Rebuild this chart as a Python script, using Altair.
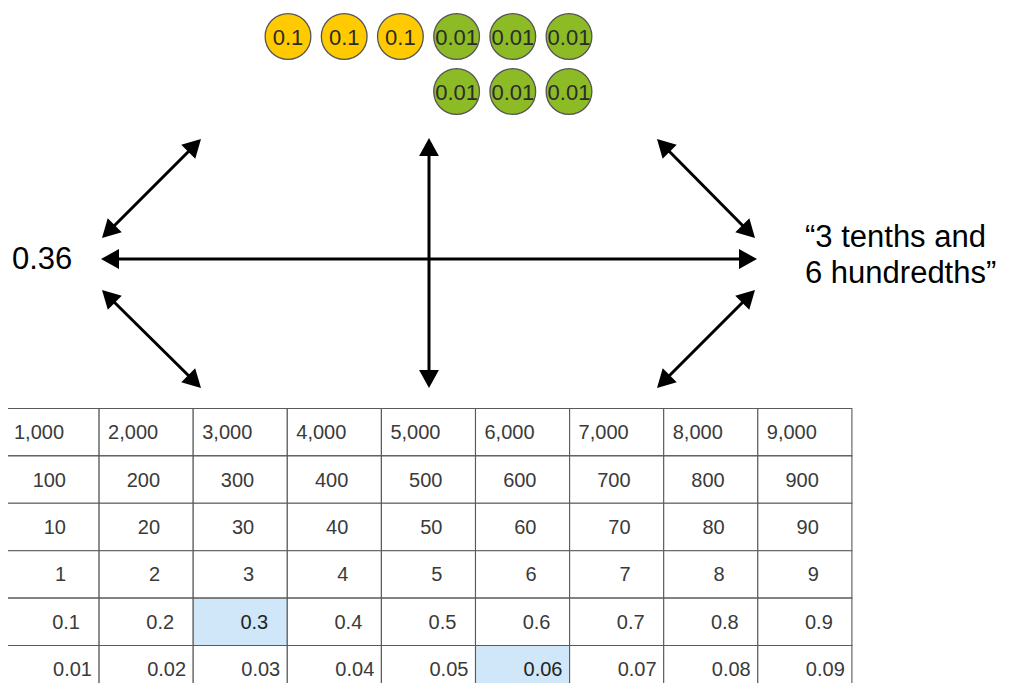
import altair as alt
import numpy as np
import pandas as pd

# ---------------- data ----------------
place_rows = [
    ["1,000", "2,000", "3,000", "4,000", "5,000", "6,000", "7,000", "8,000", "9,000"],
    ["100", "200", "300", "400", "500", "600", "700", "800", "900"],
    ["10", "20", "30", "40", "50", "60", "70", "80", "90"],
    ["1", "2", "3", "4", "5", "6", "7", "8", "9"],
    ["0.1", "0.2", "0.3", "0.4", "0.5", "0.6", "0.7", "0.8", "0.9"],
    ["0.01", "0.02", "0.03", "0.04", "0.05", "0.06", "0.07", "0.08", "0.09"],
]
highlighted = ["0.3", "0.06"]
counters_top = ["0.1", "0.1", "0.1", "0.01", "0.01", "0.01"]
counters_bottom = ["0.01", "0.01", "0.01"]
number_form = "0.36"
word_form = ["\u201c3 tenths and", "6 hundredths\u201d"]

# ---------------- layout (page pixels) ----------------
M = 8
W, H = 993, 675
FONT = "Liberation Sans"
TBL_X, TBL_Y, CW, RH = 5, 408.5, 94.1, 47.4
row_anchor = [("left", 9), ("right", 61), ("right", 61), ("right", 61), ("right", 75), ("right", 87)]
CIRC_X0, CIRC_STEP, CIRC_Y = 288, 56.2, [36.5, 91.5]
CIRC_R = 25.8
colors = {"0.1": "#FFCA00", "0.01": "#8DBB25"}

arrows = [
    ((101, 259), (757, 259)),
    ((429, 138), (429, 388)),
    ((102, 238), (201, 139)),
    ((102, 290), (201, 388)),
    ((657, 139), (755, 238)),
    ((657, 388), (755, 290)),
]
HEAD_LEN = 18

# ---------------- frames ----------------
cells = []
for r, row in enumerate(place_rows):
    align, off = row_anchor[r]
    for c, lab in enumerate(row):
        x1 = TBL_X + c * CW
        y1 = TBL_Y + r * RH
        hl = lab in highlighted
        cells.append(dict(x1=x1, x2=x1 + CW, y1=y1, y2=y1 + RH,
                          fill="#CFE7F9" if hl else "#FFFFFF",
                          tcol="#222222" if hl else "#3a3a3a",
                          label=lab, tx=x1 + off, ty=y1 + RH / 2 + 1, align=align))
cells = pd.DataFrame(cells)

circ = []
for i, lab in enumerate(counters_top):
    circ.append(dict(cx=CIRC_X0 + i * CIRC_STEP, cy=CIRC_Y[0], label=lab, fill=colors[lab]))
for j, lab in enumerate(counters_bottom):
    circ.append(dict(cx=CIRC_X0 + (3 + j) * CIRC_STEP, cy=CIRC_Y[1], label=lab, fill=colors[lab]))
circ = pd.DataFrame(circ)

lines, heads = [], []
for (a, b) in arrows:
    a = np.array(a, float)
    b = np.array(b, float)
    d = (b - a) / np.linalg.norm(b - a)
    s = a + d * 12
    e = b - d * 12
    lines.append(dict(x1=s[0], y1=s[1], x2=e[0], y2=e[1]))
    for tip, dv in ((b, d), (a, -d)):
        ang = (np.degrees(np.arctan2(dv[0], -dv[1])) + 360) % 360
        heads.append(dict(x=tip[0], y=tip[1], angle=ang))
lines = pd.DataFrame(lines)
heads = pd.DataFrame(heads)

labels = pd.DataFrame([
    dict(x=12, y=260, text=number_form, size=31),
    dict(x=805, y=238, text=word_form[0], size=31),
    dict(x=805, y=274, text=word_form[1], size=31),
])

# ---------------- encodings ----------------
xs = alt.Scale(domain=[M, M + W], nice=False, zero=False)
ys = alt.Scale(domain=[M, M + H], nice=False, zero=False, reverse=True)


def X(f):
    return alt.X(f"{f}:Q", scale=xs, axis=None)


def Y(f):
    return alt.Y(f"{f}:Q", scale=ys, axis=None)


cell_layer = alt.Chart(cells).mark_rect(stroke="#5a5a5a", strokeWidth=1.1, clip=True).encode(
    x=X("x1"), x2="x2", y=Y("y1"), y2="y2", fill=alt.Fill("fill:N", scale=None))

txt_left = alt.Chart(cells[cells["align"] == "left"]).mark_text(
    font=FONT, fontSize=20, align="left", baseline="middle").encode(
    x=X("tx"), y=Y("ty"), text="label:N", color=alt.Color("tcol:N", scale=None))
txt_right = alt.Chart(cells[cells["align"] == "right"]).mark_text(
    font=FONT, fontSize=20, align="right", baseline="middle").encode(
    x=X("tx"), y=Y("ty"), text="label:N", color=alt.Color("tcol:N", scale=None))

circ_layer = alt.Chart(circ).mark_circle(
    size=float(np.pi * CIRC_R ** 2), stroke="#555555", strokeWidth=1.3, opacity=1).encode(
    x=X("cx"), y=Y("cy"), fill=alt.Fill("fill:N", scale=None))
circ_txt = alt.Chart(circ).mark_text(
    font=FONT, fontSize=22, color="#2b2b2b", align="center", baseline="middle", dy=1).encode(
    x=X("cx"), y=Y("cy"), text="label:N")

line_layer = alt.Chart(lines).mark_rule(strokeWidth=3, color="#000000").encode(
    x=X("x1"), y=Y("y1"), x2="x2", y2="y2")
head_layer = alt.Chart(heads).mark_point(
    shape="M0,0L0.55,1L-0.55,1Z", filled=True, size=(2 * HEAD_LEN) ** 2,
    color="#000000", opacity=1, strokeWidth=0).encode(
    x=X("x"), y=Y("y"), angle=alt.Angle("angle:Q", scale=None))

label_layer = alt.Chart(labels).mark_text(
    font=FONT, color="#000000", align="left", baseline="middle").encode(
    x=X("x"), y=Y("y"), text="text:N", size=alt.Size("size:Q", scale=None))

chart = alt.layer(
    cell_layer, txt_left, txt_right, circ_layer, circ_txt, line_layer, head_layer, label_layer
).properties(width=W, height=H, padding=0, autosize="none").configure_view(stroke=None)

chart.save("out.html", embed_options={"renderer": "svg", "actions": False})
